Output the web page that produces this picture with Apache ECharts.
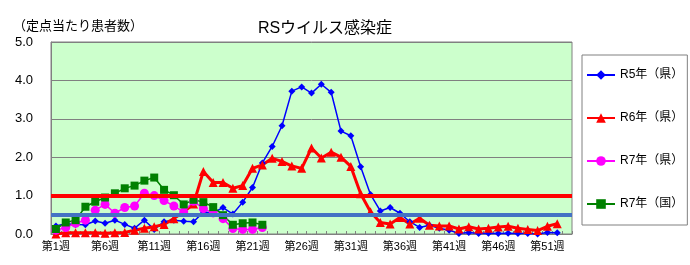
<!DOCTYPE html>
<html><head><meta charset="utf-8">
<script src="https://cdn.jsdelivr.net/npm/echarts@6/dist/echarts.min.js"></script>
<style>html,body{margin:0;padding:0;background:#fff}#c{width:690px;height:265px}</style>
</head><body><div id="c"></div>
<script>
var weeks = [];
for (var i = 1; i <= 53; i++) weeks.push('第' + i + '週');
var yTicks = ['0.0','1.0','2.0','3.0','4.0','5.0'];
var r5 = [0.21,0.27,0.25,0.24,0.34,0.28,0.36,0.25,0.15,0.36,0.12,0.32,0.36,0.33,0.32,0.57,0.55,0.69,0.52,0.83,1.21,1.85,2.28,2.82,3.72,3.83,3.67,3.90,3.69,2.68,2.56,1.75,1.03,0.60,0.69,0.54,0.32,0.17,0.23,0.15,0.10,0.01,0.04,0.01,0.02,0.01,0.02,0.01,0.01,0.00,0.04,0.03];
var r6 = [0.00,0.03,0.03,0.03,0.03,0.02,0.03,0.04,0.10,0.15,0.19,0.25,0.40,0.58,0.78,1.63,1.34,1.34,1.19,1.26,1.71,1.80,1.97,1.89,1.77,1.71,2.24,1.98,2.13,2.00,1.76,1.05,0.58,0.30,0.26,0.43,0.26,0.41,0.23,0.21,0.21,0.13,0.19,0.13,0.15,0.18,0.20,0.15,0.12,0.09,0.20,0.27];
var r7pref = [0.10,0.17,0.28,0.36,0.62,0.77,0.54,0.69,0.73,1.06,1.00,0.87,0.73,0.57,0.85,0.66,0.55,0.40,0.14,0.12,0.12,0.17];
var r7nat = [0.13,0.30,0.36,0.71,0.84,0.95,1.06,1.19,1.26,1.39,1.47,1.15,1.01,0.77,0.89,0.83,0.70,0.49,0.24,0.28,0.30,0.24];
var names = ['R5年（県）','R6年（県）','R7年（県）','R7年（国）'];
var thresholdHigh = 1.0;
var thresholdLow = 0.5;

var font = 'Liberation Sans, Arial, Noto Sans CJK JP, sans-serif';
var chart = echarts.init(document.getElementById('c'));
chart.setOption({
  animation: false,
  textStyle: {fontFamily: font},
  title: [
    {text: 'RSウイルス感染症', left: 320, top: 16, textAlign: 'center',
     textStyle: {fontSize: 16, fontWeight: 'normal', color: '#000', fontFamily: font}},
    {text: '（定点当たり患者数）', left: 8, top: 15,
     textStyle: {fontSize: 13, fontWeight: 'normal', color: '#000', fontFamily: font}}
  ],
  grid: {left: 51, right: 118, top: 42, bottom: 31, show: true,
         backgroundColor: '#CCFFCC', borderColor: '#808080', borderWidth: 1},
  legend: {
    orient: 'vertical', left: 582, top: 55,
    data: names, itemWidth: 28, itemHeight: 12, itemGap: 31,
    padding: [14, 4, 15, 4],
    borderColor: '#808080', borderWidth: 1, backgroundColor: '#fff',
    textStyle: {fontSize: 12, color: '#000', fontFamily: font}
  },
  xAxis: {
    type: 'category', data: weeks, boundaryGap: true,
    axisLine: {lineStyle: {color: '#808080', width: 1}},
    axisTick: {show: true, inside: true, length: 3, interval: 0, lineStyle: {color: '#808080'}},
    axisLabel: {interval: function (idx) { return idx % 5 === 0; }, fontSize: 11, color: '#000', margin: 7, fontFamily: font},
    splitLine: {show: false}
  },
  yAxis: {
    type: 'value', min: 0, max: 5, interval: 1,
    axisLine: {show: true, lineStyle: {color: '#808080'}},
    axisTick: {show: false},
    axisLabel: {fontSize: 13, color: '#000', margin: 18, fontFamily: font,
      formatter: function (v) { return yTicks[Math.round(v)]; }},
    splitLine: {show: true, lineStyle: {color: '#808080', width: 1}}
  },
  series: [
    {name: names[0], type: 'line', data: r5, symbol: 'diamond', symbolSize: 7, showAllSymbol: true,
     lineStyle: {color: '#0000FF', width: 1.5}, itemStyle: {color: '#0000FF'}},
    {name: names[1], type: 'line', data: r6, symbol: 'triangle', symbolSize: 9, showAllSymbol: true,
     lineStyle: {color: '#FF0000', width: 3}, itemStyle: {color: '#FF0000'}},
    {name: names[2], type: 'line', data: r7pref, symbol: 'circle', symbolSize: 9, showAllSymbol: true,
     lineStyle: {color: '#FF00FF', width: 1.5}, itemStyle: {color: '#FF00FF'}},
    {name: names[3], type: 'line', data: r7nat, symbol: 'rect', symbolSize: 8, showAllSymbol: true,
     lineStyle: {color: '#008000', width: 1.5}, itemStyle: {color: '#008000'},
     markLine: {silent: true, symbol: 'none', label: {show: false},
       data: [
         {yAxis: thresholdHigh, lineStyle: {color: '#FF0000', width: 4, type: 'solid'}},
         {yAxis: thresholdLow, lineStyle: {color: '#4472C4', width: 4, type: 'solid'}}
       ]}}
  ]
});
</script></body></html>
